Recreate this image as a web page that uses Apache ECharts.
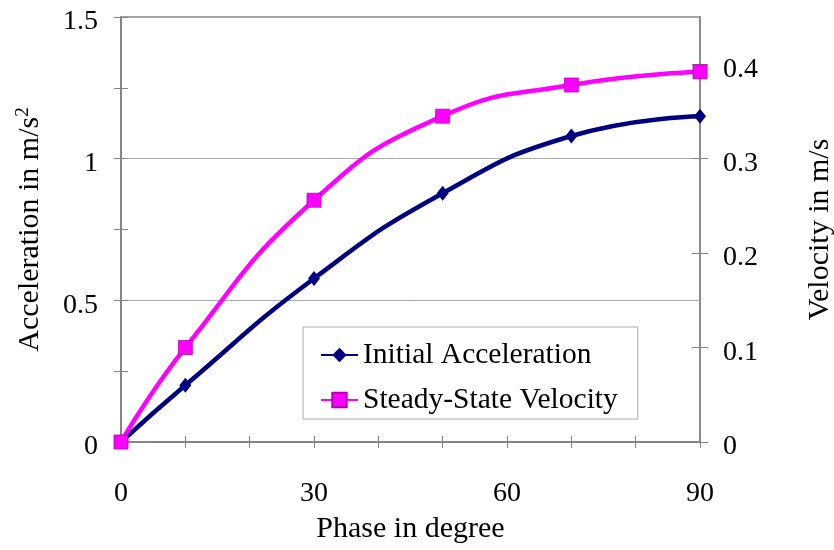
<!DOCTYPE html>
<html>
<head>
<meta charset="utf-8">
<script src="https://cdn.jsdelivr.net/npm/echarts@6/dist/echarts.min.js"></script>
<style>
  html, body { margin: 0; padding: 0; background: #fff; }
  #chart { width: 834px; height: 550px; }
</style>
</head>
<body>
<div id="chart"></div>
<script>
// Phase angles (degrees) at which both quantities were measured
const phase = [0, 10, 30, 50, 70, 90];
// Initial acceleration, m/s^2 (left axis)
const initialAcceleration = [0, 0.20, 0.577, 0.878, 1.08, 1.15];
// Steady-state velocity, m/s (right axis)
const steadyStateVelocity = [0, 0.10, 0.256, 0.345, 0.378, 0.392];
// Axis tick values
const phaseLabels = [0, 30, 60, 90];
const velocityTicks = [0, 0.1, 0.2, 0.3, 0.4];

const FONT = '"Liberation Serif", "Times New Roman", serif';
const GRAY = '#858585';
const TICK_FONT = 28;
const NAME_FONT = 30;

const pairs = (ys) => phase.map((x, i) => [x, ys[i]]);

// y tick labels sit slightly below their tick marks
const yLabelRich = {
  t: { fontFamily: FONT, fontSize: TICK_FONT, color: '#000', padding: [10, 0, 0, 0] }
};

const chart = echarts.init(document.getElementById('chart'), null, { renderer: 'canvas' });

const baseX = {
  type: 'value', min: 0, max: 90, interval: 10, position: 'bottom',
  axisLine: { show: false, onZero: false }, splitLine: { show: false }
};

chart.setOption({
  animation: false,
  backgroundColor: '#ffffff',
  grid: {
    left: 121, right: 134, top: 17, bottom: 108,
    outerBoundsMode: 'none', containLabel: false,
    show: true, borderColor: GRAY, borderWidth: 1.5, backgroundColor: 'transparent'
  },
  legend: {
    left: 303, top: 327,
    orient: 'vertical',
    backgroundColor: '#fff',
    borderColor: '#a8a8a8', borderWidth: 1,
    padding: [13, 20, 4, 17],
    itemGap: 15,
    itemWidth: 37, itemHeight: 18,
    textStyle: { fontFamily: FONT, fontSize: 29.5, color: '#000', lineHeight: 30 }
  },
  xAxis: [
    Object.assign({}, baseX, {
      name: 'Phase in degree', nameLocation: 'middle', nameGap: 72,
      nameTextStyle: { fontFamily: FONT, fontSize: NAME_FONT, color: '#000' },
      axisLine: { show: true, onZero: false, lineStyle: { color: GRAY, width: 2 } },
      axisTick: { show: true, length: 6, lineStyle: { color: GRAY } },
      axisLabel: {
        margin: 38, fontFamily: FONT, fontSize: TICK_FONT, color: '#000',
        formatter: (v) => phaseLabels.indexOf(v) >= 0 ? String(v) : ''
      }
    }),
    Object.assign({}, baseX, {
      axisTick: { show: true, inside: true, length: 6, lineStyle: { color: GRAY } },
      axisLabel: { show: false }
    })
  ],
  yAxis: [
    {
      type: 'value', min: 0, max: 1.5, interval: 0.5, position: 'left',
      name: 'Acceleration in m/s{sup|2}', nameLocation: 'middle', nameGap: 74,
      nameTextStyle: {
        fontFamily: FONT, fontSize: NAME_FONT, color: '#000',
        rich: { sup: { fontFamily: FONT, fontSize: 19, color: '#000', verticalAlign: 'top', padding: [0, 0, 14, 0] } }
      },
      axisLine: { show: true, onZero: false, lineStyle: { color: GRAY, width: 2 } },
      axisTick: { show: true, length: 7, lineStyle: { color: GRAY } },
      minorTick: { show: true, splitNumber: 2, length: 7, lineStyle: { color: GRAY } },
      splitLine: { show: true, lineStyle: { color: '#a9a9a9', width: 1 } },
      axisLabel: {
        margin: 23, fontFamily: FONT, fontSize: TICK_FONT, color: '#000',
        rich: yLabelRich,
        formatter: (v) => '{t|' + v + '}'
      }
    },
    {
      type: 'value', min: 0, max: 0.45, position: 'right',
      name: 'Velocity in m/s', nameLocation: 'middle', nameGap: 105,
      nameTextStyle: { fontFamily: FONT, fontSize: NAME_FONT, color: '#000' },
      axisLine: { show: true, onZero: false, lineStyle: { color: GRAY, width: 1.5 } },
      axisTick: { show: true, length: 8, customValues: velocityTicks, lineStyle: { color: GRAY } },
      splitLine: { show: false },
      axisLabel: {
        margin: 23, fontFamily: FONT, fontSize: TICK_FONT, color: '#000',
        rich: yLabelRich,
        customValues: velocityTicks,
        formatter: (v) => '{t|' + (+v.toFixed(1)) + '}'
      }
    },
    {
      type: 'value', min: 0, max: 1.5, interval: 0.5, position: 'left',
      axisLine: { show: false, onZero: false },
      axisTick: { show: true, inside: true, length: 7, lineStyle: { color: GRAY } },
      minorTick: { show: true, splitNumber: 2, length: 7, lineStyle: { color: GRAY } },
      splitLine: { show: false },
      axisLabel: { show: false }
    },
    {
      type: 'value', min: 0, max: 0.45, position: 'right',
      axisLine: { show: false, onZero: false },
      axisTick: { show: true, inside: true, length: 8, customValues: velocityTicks, lineStyle: { color: GRAY } },
      splitLine: { show: false },
      axisLabel: { show: false, customValues: velocityTicks }
    }
  ],
  series: [
    {
      name: 'Initial Acceleration',
      type: 'line', xAxisIndex: 0, yAxisIndex: 0,
      data: pairs(initialAcceleration),
      smooth: true,
      symbol: 'diamond', symbolSize: [12, 15],
      lineStyle: { color: '#000080', width: 4.5 },
      itemStyle: { color: '#000080' },
      z: 3
    },
    {
      name: 'Steady-State Velocity',
      type: 'line', xAxisIndex: 0, yAxisIndex: 1,
      data: pairs(steadyStateVelocity),
      smooth: true,
      symbol: 'rect', symbolSize: 14,
      lineStyle: { color: '#ff00ff', width: 4.5 },
      itemStyle: { color: '#ff00ff', borderColor: '#b000b0', borderWidth: 0.8 },
      z: 4
    }
  ]
});
</script>
</body>
</html>
